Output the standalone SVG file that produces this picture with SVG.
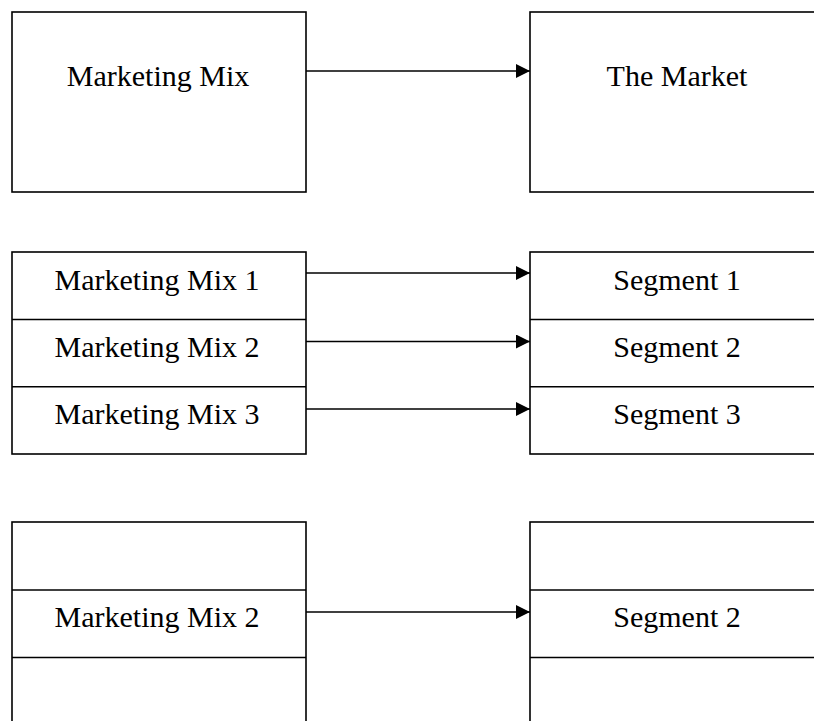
<svg xmlns="http://www.w3.org/2000/svg" width="814" height="721" viewBox="0 0 814 721">
<style>
.box{fill:#fff;stroke:#000;stroke-width:1.6}
.div{stroke:#000;stroke-width:1.6;fill:none}
.t{font-family:"Liberation Serif","Times New Roman",serif;font-size:30px;fill:#000;text-anchor:middle}
.c{stroke:#000;stroke-width:1.6;fill:none;marker-end:url(#ah)}
</style>
<defs>
<marker id="ah" markerUnits="userSpaceOnUse" markerWidth="14" markerHeight="14" refX="14" refY="7" orient="auto">
<path d="M0,0 L14,7 L0,14 Z" fill="#000"/>
</marker>
</defs>
<rect width="814" height="721" fill="#fff"/>
<g id="marketing-mix">
<rect class="box" x="12" y="12" width="294" height="180"/>
<text class="t" x="158" y="86">Marketing Mix</text>
</g>
<g id="the-market">
<rect class="box" x="530" y="12" width="300" height="180"/>
<text class="t" x="677" y="86">The Market</text>
</g>
<g id="mixes">
<rect class="box" x="12" y="252" width="294" height="202"/>
<line class="div" x1="12" y1="319.5" x2="306" y2="319.5"/>
<line class="div" x1="12" y1="386.8" x2="306" y2="386.8"/>
<text class="t" x="157" y="290">Marketing Mix 1</text>
<text class="t" x="157" y="357">Marketing Mix 2</text>
<text class="t" x="157" y="424">Marketing Mix 3</text>
</g>
<g id="segments">
<rect class="box" x="530" y="252" width="300" height="202"/>
<line class="div" x1="530" y1="319.5" x2="830" y2="319.5"/>
<line class="div" x1="530" y1="386.8" x2="830" y2="386.8"/>
<text class="t" x="677" y="290">Segment 1</text>
<text class="t" x="677" y="357">Segment 2</text>
<text class="t" x="677" y="424">Segment 3</text>
</g>
<g id="mix-focus">
<rect class="box" x="12" y="522" width="294" height="230"/>
<line class="div" x1="12" y1="590" x2="306" y2="590"/>
<line class="div" x1="12" y1="657.5" x2="306" y2="657.5"/>
<text class="t" x="157" y="627">Marketing Mix 2</text>
</g>
<g id="segment-focus">
<rect class="box" x="530" y="522" width="300" height="230"/>
<line class="div" x1="530" y1="590" x2="830" y2="590"/>
<line class="div" x1="530" y1="657.5" x2="830" y2="657.5"/>
<text class="t" x="677" y="627">Segment 2</text>
</g>
<g id="connectors">
<line class="c" x1="306" y1="71" x2="530" y2="71"/>
<line class="c" x1="306" y1="273" x2="530" y2="273"/>
<line class="c" x1="306" y1="341.5" x2="530" y2="341.5"/>
<line class="c" x1="306" y1="409" x2="530" y2="409"/>
<line class="c" x1="306" y1="612" x2="530" y2="612"/>
</g>
</svg>
